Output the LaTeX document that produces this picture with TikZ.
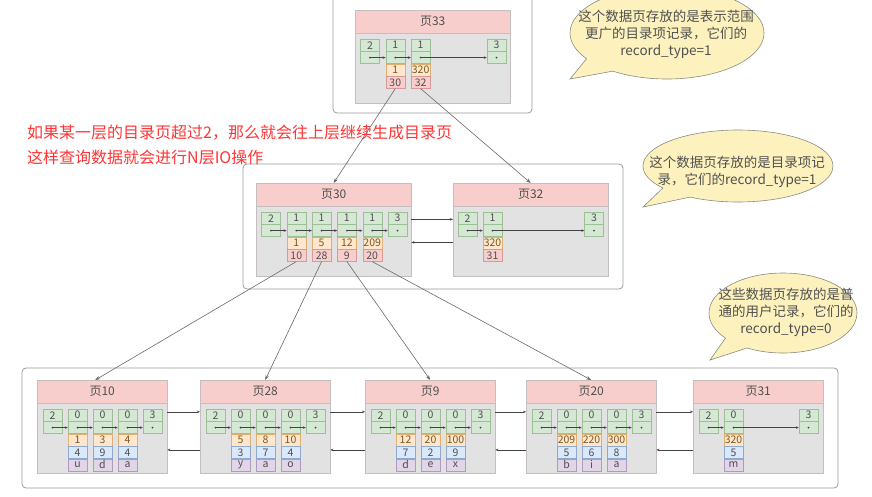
\documentclass[tikz,border=0pt]{standalone}
\usepackage{fontspec}
\setmainfont{Noto Sans CJK SC}
\usetikzlibrary{shapes.callouts,shapes.geometric,arrows.meta}
\definecolor{hdfill}{HTML}{F8CECC}
\definecolor{pgline}{HTML}{C4BEBE}
\definecolor{bdfill}{HTML}{E2E2E2}
\definecolor{gfill}{HTML}{D5E8D4}
\definecolor{gline}{HTML}{9DBF98}
\definecolor{yfill}{HTML}{FFE6CC}
\definecolor{yline}{HTML}{E0B070}
\definecolor{kfill}{HTML}{F8CECC}
\definecolor{kline}{HTML}{D89A98}
\definecolor{bfill}{HTML}{DAE8FC}
\definecolor{bline}{HTML}{8EA9D0}
\definecolor{ufill}{HTML}{E1D5E7}
\definecolor{uline}{HTML}{B19AC0}
\definecolor{txt}{HTML}{505050}
\definecolor{ytxt}{HTML}{7A5A20}
\definecolor{lk}{HTML}{444444}
\definecolor{cn}{HTML}{6A6A6A}
\definecolor{boxline}{HTML}{9A9A9A}
\definecolor{bubfill}{HTML}{FDF2BE}
\definecolor{bubline}{HTML}{8A8A80}
\definecolor{redtxt}{HTML}{FF3535}
\tikzset{
 pghead/.style={draw=pgline, fill=hdfill, inner sep=0pt, minimum height=23pt, font=\fontsize{12}{12}\selectfont, text=txt},
 pgbody/.style={draw=pgline, fill=bdfill, inner sep=0pt},
 cellbase/.style={inner sep=0pt, minimum width=19pt, minimum height=12pt, font=\fontsize{10.5}{10.5}\selectfont, text=txt, line width=0.4pt},
 gcell/.style={cellbase, draw=gline, fill=gfill},
 ycell/.style={cellbase, draw=yline, fill=yfill, text=ytxt},
 kcell/.style={cellbase, draw=kline, fill=kfill},
 bcell/.style={cellbase, draw=bline, fill=bfill},
 ucell/.style={cellbase, draw=uline, fill=ufill},
 lnk/.style={draw=lk, line width=0.5pt, -{Stealth[length=3pt,width=2.5pt]}},
 conn/.style={draw=cn, line width=0.6pt, -{Stealth[length=5pt,width=3.5pt]}},
 container/.style={draw=boxline, rounded corners=4pt, fill=white, line width=0.8pt},
 bubble/.style={ellipse callout, draw=bubline, fill=bubfill, line width=0.6pt, inner sep=0pt, callout pointer arc=22},
 bubtxt/.style={align=center, font=\fontsize{13.5}{17}\selectfont, text=txt, inner sep=0pt},
}
\newcommand\mkpage[5]{% name, left, top, width, label
 \node[pghead, minimum width=#4pt, anchor=north west] (#1h) at (#2,#3) {#5};
 \node[pgbody, minimum width=#4pt, minimum height=69.5pt, anchor=north] (#1b) at (#1h.south) {};
}
\newcommand\mkrec[5]{% prefix, idx, cx, ytop, num
 \node[gcell, anchor=north] (#1t#2) at (#3,#4) {#5};
 \node[gcell, anchor=north] (#1d#2) at (#1t#2.south) {};
 \fill[lk] (#1d#2.center) circle (1pt);
}
\newcommand\mkleaf[3]{% name, left, list
 \mkpage{#1}{#2}{380}{130}{页#1}
 \mkrec{#1}{0}{#2+15.5}{409}{2}
 \foreach \i/\a/\b/\c in {#3}{%
   \mkrec{#1}{\i}{#2+15.5+25*\i}{409}{0}
   \node[ycell, anchor=north] (#1y\i) at (#1d\i.south) {\a};
   \node[bcell, anchor=north] (#1u\i) at (#1y\i.south) {\b};
   \node[ucell, anchor=north] (#1v\i) at (#1u\i.south) {\c};
 }
 \mkrec{#1}{4}{#2+115.5}{409}{3}
 \draw[lnk] (#1d0.center) -- (#1d1.west);
 \draw[lnk] (#1d1.center) -- (#1d2.west);
 \draw[lnk] (#1d2.center) -- (#1d3.west);
 \draw[lnk] (#1d3.center) -- (#1d4.west);
}
\begin{document}
\begin{tikzpicture}[x=1pt,y=-1pt]
\fill[white] (0,0) rectangle (872,496);
\useasboundingbox (0,0) rectangle (872,496);
\clip (0,0) rectangle (872,496);

% containers
\draw[container] (333,-6) rectangle (532,113);
\draw[container] (243,164) rectangle (623,289);
\draw[container] (22,368) rectangle (838,488);

% red note
\node[anchor=west, align=left, text=redtxt, font=\fontsize{16}{25}\selectfont, inner sep=0pt] (note) at (27,144.5)
 {如果某一层的目录页超过2，那么就会往上层继续生成目录页\\这样查询数据就会进行N层IO操作};

% callouts
\node[bubble, minimum width=194pt, minimum height=92pt, callout absolute pointer={(570,79)}] (bub1) at (667,33) {};
\node[bubtxt] (bub1t) at (666,34.5) {这个数据页存放的是表示范围\\更广的目录项记录，它们的\\record\_type=1};
\node[bubble, minimum width=190pt, minimum height=72pt, callout absolute pointer={(643,207)}] (bub2) at (738,166) {};
\node[bubtxt] (bub2t) at (737,171.5) {这个数据页存放的是目录项记\\录，它们的record\_type=1};
\node[bubble, minimum width=148pt, minimum height=80pt, callout absolute pointer={(710,360)}] (bub3) at (783,313) {};
\node[bubtxt] (bub3t) at (786,312.5) {这些数据页存放的是普\\通的用户记录，它们的\\record\_type=0};

% page 33
\mkpage{p33}{355}{10}{155}{页33}
\mkrec{p33}{0}{370}{39}{2}
\mkrec{p33}{1}{395.3}{39}{1}
\mkrec{p33}{2}{420.6}{39}{1}
\mkrec{p33}{5}{496.5}{39}{3}
\node[ycell, anchor=north] (p33y1) at (p33d1.south) {1};
\node[kcell, anchor=north] (p33k1) at (p33y1.south) {30};
\node[ycell, anchor=north] (p33y2) at (p33d2.south) {320};
\node[kcell, anchor=north] (p33k2) at (p33y2.south) {32};
\draw[lnk] (p33d0.center) -- (p33d1.west);
\draw[lnk] (p33d1.center) -- (p33d2.west);
\draw[lnk] (p33d2.center) -- (p33d5.west);

% page 30
\mkpage{p30}{256}{183}{155}{页30}
\mkrec{p30}{0}{271}{212}{2}
\mkrec{p30}{1}{296.3}{212}{1}
\mkrec{p30}{2}{321.6}{212}{1}
\mkrec{p30}{3}{346.9}{212}{1}
\mkrec{p30}{4}{372.2}{212}{1}
\mkrec{p30}{5}{397.5}{212}{3}
\node[ycell, anchor=north] (p30y1) at (p30d1.south) {1};
\node[kcell, anchor=north] (p30k1) at (p30y1.south) {10};
\node[ycell, anchor=north] (p30y2) at (p30d2.south) {5};
\node[kcell, anchor=north] (p30k2) at (p30y2.south) {28};
\node[ycell, anchor=north] (p30y3) at (p30d3.south) {12};
\node[kcell, anchor=north] (p30k3) at (p30y3.south) {9};
\node[ycell, anchor=north] (p30y4) at (p30d4.south) {209};
\node[kcell, anchor=north] (p30k4) at (p30y4.south) {20};
\draw[lnk] (p30d0.center) -- (p30d1.west);
\draw[lnk] (p30d1.center) -- (p30d2.west);
\draw[lnk] (p30d2.center) -- (p30d3.west);
\draw[lnk] (p30d3.center) -- (p30d4.west);
\draw[lnk] (p30d4.center) -- (p30d5.west);

% page 32
\mkpage{p32}{453}{183}{155}{页32}
\mkrec{p32}{0}{467.5}{212}{2}
\mkrec{p32}{1}{492.5}{212}{1}
\mkrec{p32}{5}{594}{212}{3}
\node[ycell, anchor=north] (p32y1) at (p32d1.south) {320};
\node[kcell, anchor=north] (p32k1) at (p32y1.south) {31};
\draw[lnk] (p32d0.center) -- (p32d1.west);
\draw[lnk] (p32d1.center) -- (p32d5.west);

\draw[lnk] ([yshift=22pt]p30b.east) -- ([yshift=22pt]p32b.west);
\draw[lnk] ([yshift=-1pt]p32b.west) -- ([yshift=-1pt]p30b.east);

% leaf pages
\mkleaf{10}{37}{1/1/4/u, 2/3/9/d, 3/4/4/a}
\mkleaf{28}{200}{1/5/3/y, 2/8/7/a, 3/10/4/o}
\mkleaf{9}{365}{1/12/7/d, 2/20/2/e, 3/100/9/x}
\mkleaf{20}{526}{1/209/5/b, 2/220/6/i, 3/300/8/a}

% page 31
\mkpage{31}{693}{380}{130}{页31}
\mkrec{31}{0}{708.5}{409}{2}
\mkrec{31}{1}{733.5}{409}{0}
\mkrec{31}{4}{808.5}{409}{3}
\node[ycell, anchor=north] (31y1) at (31d1.south) {320};
\node[bcell, anchor=north] (31u1) at (31y1.south) {5};
\node[ucell, anchor=north] (31v1) at (31u1.south) {m};
\draw[lnk] (31d0.center) -- (31d1.west);
\draw[lnk] (31d1.center) -- (31d4.west);

% sibling links
\foreach \a/\b in {10/28, 28/9, 9/20, 20/31}{
 \draw[lnk] ([yshift=26.5pt]\a b.east) -- ([yshift=26.5pt]\b b.west);
 \draw[lnk] ([yshift=-11.5pt]\b b.west) -- ([yshift=-11.5pt]\a b.east);
}

% tree connectors
\draw[conn] (p33k1.south) -- (p30h.north);
\draw[conn] (p33k2.south) -- (p32h.north);
\draw[conn] (p30k1.south) -- ([xshift=-7pt]10h.north);
\draw[conn] (p30k2.south) -- (28h.north);
\draw[conn] (p30k3.south) -- (9h.north);
\draw[conn] (p30k4.south) -- (20h.north);
\end{tikzpicture}
\end{document}
